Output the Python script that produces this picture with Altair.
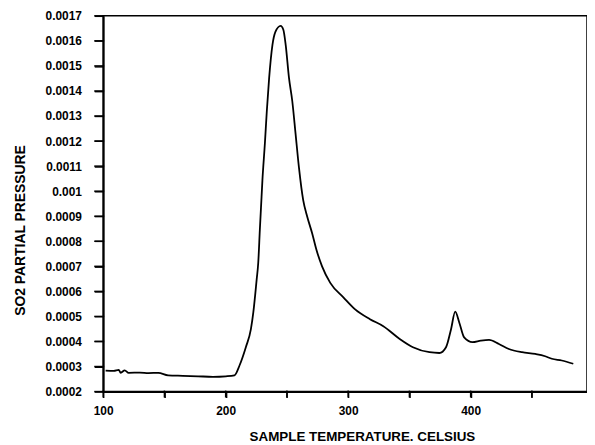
import altair as alt
import pandas as pd

# Sample temperature (Celsius)
temperature = [102, 108.7, 112.7, 114.3, 117.6, 120.8, 130, 137, 145, 153, 165,
               177.5, 189.6, 200.2, 207.2, 211.3, 216.6, 220.6, 222.6, 225.3,
               226.6, 227.9, 229.3, 230.0, 232.0, 233.6, 235.5, 238.2, 240.6,
               244.9, 247.1, 249, 251.7, 254.4, 257.1, 259.8, 263.3, 266.6,
               270.6, 274.1, 278.7, 285.4, 296.3, 305.7, 317.8, 328.7,
               342.1, 352.9, 366.4, 374.5, 379.9, 384, 387.4, 390.7, 394.7,
               401.5, 408.3, 415, 423.1, 431.2, 442, 452.8, 460.9, 466.3,
               474.4, 483.8]

# SO2 partial pressure, in units of 1e-4
pressure_e4 = [2.84, 2.83, 2.87, 2.75, 2.85, 2.75, 2.76, 2.74, 2.75, 2.65, 2.63,
               2.61, 2.59, 2.61, 2.65, 3.04, 3.79, 4.49, 5.17, 6.47,
               7.14, 8.45, 9.77, 10.43, 11.89, 13.2, 14.52, 15.84, 16.36,
               16.60, 16.44, 15.84, 14.52, 13.59, 12.28, 10.96, 9.64, 8.98,
               8.32, 7.66, 7.0, 6.34, 5.75, 5.28, 4.89, 4.61,
               4.10, 3.77, 3.57, 3.54, 3.77, 4.49, 5.19, 4.76, 4.16,
               3.97, 4.03, 4.06, 3.90, 3.70, 3.57, 3.50, 3.41, 3.31,
               3.24, 3.11]

x_ticks = [100, 150, 200, 250, 300, 350, 400, 450]
y_ticks = [0.0002, 0.0003, 0.0004, 0.0005, 0.0006, 0.0007, 0.0008, 0.0009,
           0.001, 0.0011, 0.0012, 0.0013, 0.0014, 0.0015, 0.0016, 0.0017]

assert len(temperature) == len(pressure_e4)
df = pd.DataFrame({"T": temperature, "P": [v * 1e-4 for v in pressure_e4]})
xt_df = pd.DataFrame({"T": x_ticks})
yt_df = pd.DataFrame({"P": y_ticks})

font = "Liberation Sans"
W, H = 488, 379

x_scale = alt.Scale(domain=[100, 495], nice=False, zero=False)
y_scale = alt.Scale(domain=[0.0002, 0.0017], nice=False, zero=False)

x_axis = alt.Axis(values=x_ticks, format="d",
                  labelExpr="datum.value % 100 == 0 ? datum.label : ''",
                  title="SAMPLE TEMPERATURE. CELSIUS",
                  tickSize=6, labelPadding=8, labelOverlap=False,
                  titleFontSize=13.5,
                  titleX=261, titleY=49, titleAlign="center",
                  titleBaseline="alphabetic")
y_axis = alt.Axis(values=y_ticks, format=".2~g",
                  title="SO2 PARTIAL PRESSURE",
                  tickSize=9, labelPadding=13, labelOverlap=False,
                  titleFontSize=14,
                  titleX=-79, titleY=216, titleAngle=270,
                  titleAlign="center", titleBaseline="alphabetic")

line = alt.Chart(df).mark_line(color="black", strokeWidth=1.8,
                               interpolate="monotone").encode(
    x=alt.X("T:Q", scale=x_scale, axis=x_axis),
    y=alt.Y("P:Q", scale=y_scale, axis=y_axis),
)

# tick marks drawn through the scales
x_tick_marks = alt.Chart(xt_df).mark_rule(color="black", strokeWidth=1.5).encode(
    x=alt.X("T:Q", scale=x_scale, axis=x_axis),
    y=alt.value(H - 1),
    y2=alt.value(H + 6),
)
y_tick_marks = alt.Chart(yt_df).mark_rule(color="black", strokeWidth=1.5).encode(
    y=alt.Y("P:Q", scale=y_scale, axis=y_axis),
    x=alt.value(-9),
    x2=alt.value(1),
)

chart = alt.layer(line, x_tick_marks, y_tick_marks).properties(
    width=W,
    height=H,
    autosize=alt.AutoSizeParams(type="none"),
    padding={"left": 96, "top": 6, "right": 0, "bottom": 50},
).configure(
    background="white",
).configure_view(
    stroke="black", strokeWidth=1.5,
).configure_axis(
    grid=False, ticks=True, domain=True,
    domainColor="#000000", domainWidth=2,
    tickColor="#000000", tickWidth=1.5, tickOpacity=1,
    labelFont=font, labelFontSize=12, labelFontWeight="bold",
    labelColor="#000000", labelFlush=False,
    titleFont=font, titleFontWeight="bold", titleColor="#000000",
)

chart.save("out.html", embed_options={"renderer": "svg", "actions": False})
